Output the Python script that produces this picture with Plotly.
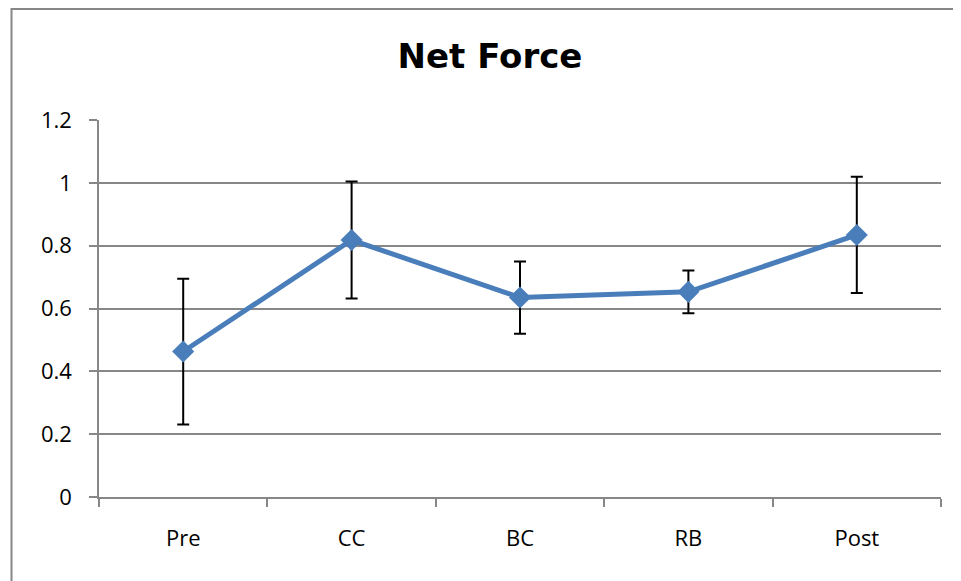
import plotly.graph_objects as go

categories = ["Pre", "CC", "BC", "RB", "Post"]
net_force = [0.463, 0.818, 0.635, 0.653, 0.834]
error = [0.232, 0.186, 0.115, 0.068, 0.185]
y_ticks = [0, 0.2, 0.4, 0.6, 0.8, 1, 1.2]
y_tick_labels = ["0", "0.2", "0.4", "0.6", "0.8", "1", "1.2"]

FONT = "'Open Sans', Lato, sans-serif"
TITLE_FONT = "'DejaVu Sans', sans-serif"
GRID = "#878787"

# plot area in figure pixels (page adds an 8px body margin)
L, R, T, B = 91, 933, 112, 489
W, H = R - L, B - T

fig = go.Figure()
fig.add_trace(go.Scatter(
    x=categories, y=net_force, mode="lines+markers",
    line=dict(color="#4A7EBB", width=5),
    marker=dict(symbol="diamond", size=17, color="#4A7EBB"),
    error_y=dict(type="data", array=error, visible=True, color="black",
                 thickness=2, width=6),
    showlegend=False,
))

fig.update_layout(
    width=961, height=581,
    margin=dict(l=L, r=961 - R, t=T, b=581 - B),
    paper_bgcolor="white", plot_bgcolor="white",
    font=dict(family=FONT, color="black", size=22),
    title=dict(text="<b>Net Force</b>", x=(490 - 8 - L) / W, xref="paper",
               xanchor="center",
               y=1 - 48 / 581, yanchor="middle",
               font=dict(family=TITLE_FONT, size=34, color="black")),
    xaxis=dict(
        type="category", showgrid=False, showline=True, linecolor=GRID,
        linewidth=1.5, ticks="outside", tickson="boundaries", ticklen=8,
        tickcolor=GRID, tickwidth=1.5, ticklabelstandoff=21,
        range=[-0.5, 4.5], tickfont=dict(size=22, family=FONT),
    ),
    yaxis=dict(
        range=[0, 1.2], tickvals=y_ticks, ticktext=y_tick_labels,
        showgrid=True, gridcolor=GRID, gridwidth=1.5, showline=True,
        linecolor=GRID, linewidth=1.5, ticks="outside", ticklen=8,
        tickcolor=GRID, tickwidth=1.5, ticklabelstandoff=13,
        zeroline=False, tickfont=dict(size=22, family=FONT),
    ),
    shapes=[dict(type="rect", xref="paper", yref="paper",
                 x0=(3.5 - L) / W, x1=(990 - L) / W,
                 y0=(B - 600) / H, y1=(B - 1) / H,
                 line=dict(color=GRID, width=2), fillcolor="rgba(0,0,0,0)",
                 layer="below")],
)

fig.write_html("out.html")
